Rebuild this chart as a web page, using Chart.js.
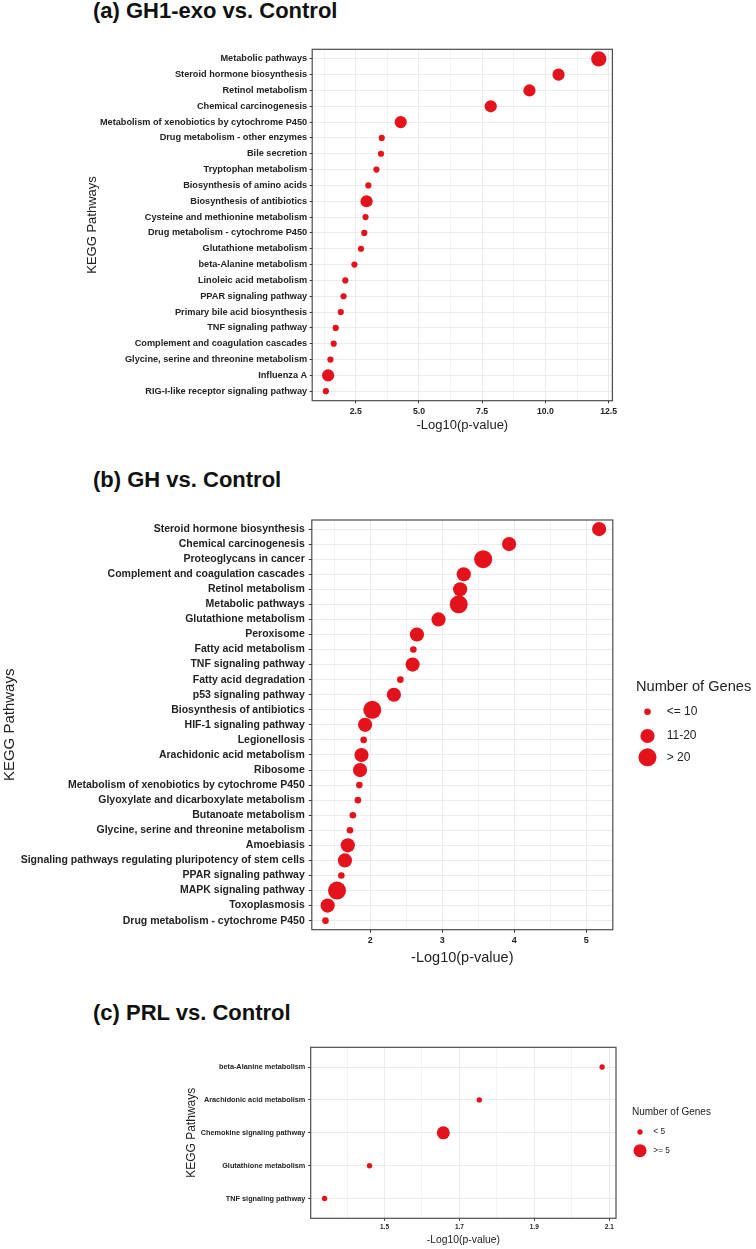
<!DOCTYPE html>
<html>
<head>
<meta charset="utf-8">
<script src="https://cdn.jsdelivr.net/npm/chart.js@4.4.1/dist/chart.umd.min.js"></script>
<style>
  html, body { margin: 0; padding: 0; background: #fff; }
  body { width: 756px; height: 1249px; position: relative; overflow: hidden; font-family: 'Liberation Sans', Arial, sans-serif; }
  .title { position: absolute; left: 93px; font-size: 22px; font-weight: bold; line-height: 22px; color: #111; white-space: nowrap; }
  .panel { position: absolute; left: 0; width: 756px; }
</style>
</head>
<body>
<div class="title" style="top:0px">(a) GH1-exo vs. Control</div>
<div class="panel" style="top:30px;height:403px"><canvas id="chartA"></canvas></div>
<div class="title" style="top:469px">(b) GH vs. Control</div>
<div class="panel" style="top:500px;height:467px"><canvas id="chartB"></canvas></div>
<div class="title" style="top:1002px">(c) PRL vs. Control</div>
<div class="panel" style="top:1035px;height:212px"><canvas id="chartC"></canvas></div>
<script>
const FONT = "'Liberation Sans', Arial, Helvetica, sans-serif";
const DOT = '#E3121B';
const INK = '#222222';

// (a) GH1-exo vs. Control
const pathwaysA = [
  'Metabolic pathways', 'Steroid hormone biosynthesis', 'Retinol metabolism', 'Chemical carcinogenesis',
  'Metabolism of xenobiotics by cytochrome P450', 'Drug metabolism - other enzymes', 'Bile secretion',
  'Tryptophan metabolism', 'Biosynthesis of amino acids', 'Biosynthesis of antibiotics',
  'Cysteine and methionine metabolism', 'Drug metabolism - cytochrome P450', 'Glutathione metabolism',
  'beta-Alanine metabolism', 'Linoleic acid metabolism', 'PPAR signaling pathway',
  'Primary bile acid biosynthesis', 'TNF signaling pathway', 'Complement and coagulation cascades',
  'Glycine, serine and threonine metabolism', 'Influenza A', 'RIG-I-like receptor signaling pathway'
];
const log10pA = [12.11, 10.52, 9.37, 7.84, 4.28, 3.53, 3.50, 3.32, 3.00, 2.93, 2.89,
  2.84, 2.71, 2.45, 2.09, 2.02, 1.91, 1.71, 1.63, 1.50, 1.41, 1.32];
const genesA = [2, 1, 1, 1, 1, 0, 0, 0, 0, 1, 0, 0, 0, 0, 0, 0, 0, 0, 0, 0, 1, 0];
const xTicksA = [2.5, 5, 7.5, 10, 12.5];
const xTickLabelsA = ['2.5', '5.0', '7.5', '10.0', '12.5'];

// (b) GH vs. Control
const pathwaysB = [
  'Steroid hormone biosynthesis', 'Chemical carcinogenesis', 'Proteoglycans in cancer',
  'Complement and coagulation cascades', 'Retinol metabolism', 'Metabolic pathways',
  'Glutathione metabolism', 'Peroxisome', 'Fatty acid metabolism', 'TNF signaling pathway',
  'Fatty acid degradation', 'p53 signaling pathway', 'Biosynthesis of antibiotics',
  'HIF-1 signaling pathway', 'Legionellosis', 'Arachidonic acid metabolism', 'Ribosome',
  'Metabolism of xenobiotics by cytochrome P450', 'Glyoxylate and dicarboxylate metabolism',
  'Butanoate metabolism', 'Glycine, serine and threonine metabolism', 'Amoebiasis',
  'Signaling pathways regulating pluripotency of stem cells', 'PPAR signaling pathway',
  'MAPK signaling pathway', 'Toxoplasmosis', 'Drug metabolism - cytochrome P450'
];
const log10pB = [5.18, 3.93, 3.57, 3.30, 3.25, 3.23, 2.95, 2.65, 2.60, 2.59, 2.42, 2.33, 2.03,
  1.93, 1.91, 1.88, 1.86, 1.85, 1.83, 1.76, 1.72, 1.69, 1.65, 1.60, 1.54, 1.41, 1.38];
const genesB = [1, 1, 2, 1, 1, 2, 1, 1, 0, 1, 0, 1, 2, 1, 0, 1, 1, 0, 0, 0, 0, 1, 1, 0, 2, 1, 0];
const geneClassesB = ['<= 10', '11-20', '> 20'];
const xTicksB = [2, 3, 4, 5];
const xTickLabelsB = ['2', '3', '4', '5'];

// (c) PRL vs. Control
const pathwaysC = ['beta-Alanine metabolism', 'Arachidonic acid metabolism', 'Chemokine signaling pathway',
  'Glutathione metabolism', 'TNF signaling pathway'];
const log10pC = [2.081, 1.753, 1.657, 1.46, 1.34];
const genesC = [0, 0, 1, 0, 0];
const geneClassesC = ['< 5', '>= 5'];
const xTicksC = [1.5, 1.7, 1.9, 2.1];
const xTickLabelsC = ['1.5', '1.7', '1.9', '2.1'];

// frame round the panel, drawn on top like theme_bw's panel.border
const panelBorder = {
  id: 'panelBorder',
  afterDatasetsDraw(chart, args, opts) {
    const { left, top, width, height } = chart.chartArea;
    const ctx = chart.ctx;
    ctx.save();
    ctx.strokeStyle = opts.color;
    ctx.lineWidth = opts.width;
    ctx.strokeRect(left, top, width, height);
    ctx.restore();
  }
};

// size legend built from the datasets (one dataset per gene-count class)
const sizeLegend = {
  id: 'sizeLegend',
  afterDraw(chart, args, opts) {
    if (!opts.display) return;
    const ctx = chart.ctx;
    ctx.save();
    ctx.textAlign = 'left';
    ctx.textBaseline = 'middle';
    ctx.fillStyle = INK;
    ctx.font = opts.titleSize + 'px ' + FONT;
    ctx.fillText(opts.title, opts.x, opts.titleY);
    ctx.font = opts.labelSize + 'px ' + FONT;
    chart.data.datasets.forEach((ds, k) => {
      const y = opts.itemY[k];
      ctx.beginPath();
      ctx.arc(opts.dotX, y, ds.pointRadius, 0, Math.PI * 2);
      ctx.fillStyle = ds.backgroundColor;
      ctx.fill();
      ctx.fillStyle = INK;
      ctx.fillText(ds.label, opts.labelX, y);
    });
    ctx.restore();
  }
};

function makeDotChart(id, pathways, values, classes, classLabels, xTicks, xTickLabels, L) {
  const datasets = classLabels.map((lab, k) => ({
    label: lab,
    data: values.map((v, i) => ({ x: v, y: i })).filter((p, i) => classes[i] === k),
    pointRadius: L.radii[k],
    pointHoverRadius: L.radii[k],
    backgroundColor: DOT,
    borderWidth: 0
  }));

  // ggplot-style 5% expansion of the continuous axis
  const lo0 = Math.min(...values), hi0 = Math.max(...values);
  const lo = lo0 - 0.05 * (hi0 - lo0), hi = hi0 + 0.05 * (hi0 - lo0);

  const isMajor = v => xTicks.some(t => Math.abs(t - v) < 1e-9);
  const step = xTicks[1] - xTicks[0];
  const xTickList = [];
  for (let k = -2; k <= xTicks.length * 2 + 1; k++) {
    const v = xTicks[0] + k * step / 2;
    if (v >= lo && v <= hi) xTickList.push({ value: v });
  }

  return new Chart(document.getElementById(id), {
    type: 'scatter',
    data: { datasets },
    options: {
      responsive: true,
      maintainAspectRatio: false,
      animation: false,
      events: [],
      layout: { padding: { top: L.padTop, right: L.padRight, bottom: 0, left: 0 } },
      plugins: {
        legend: { display: false },
        tooltip: { enabled: false },
        panelBorder: { color: '#4d4d4d', width: 1.2 },
        sizeLegend: L.legend || { display: false }
      },
      scales: {
        x: {
          type: 'linear',
          min: lo,
          max: hi,
          afterBuildTicks: s => { s.ticks = xTickList.map(t => ({ value: t.value })); },
          afterFit: s => { s.height = L.xAxisHeight; },
          border: { display: false },
          grid: {
            color: c => isMajor(c.tick.value) ? '#EBEBEB' : '#F3F3F3',
            tickColor: c => isMajor(c.tick.value) ? '#333333' : 'rgba(0,0,0,0)',
            tickLength: L.tickLen,
            lineWidth: 1
          },
          ticks: {
            autoSkip: false,
            maxRotation: 0,
            padding: L.xTickPad,
            color: INK,
            font: { family: FONT, size: L.xTickSize, weight: 'bold' },
            callback: v => {
              const i = xTicks.findIndex(t => Math.abs(t - v) < 1e-9);
              return i >= 0 ? xTickLabels[i] : '';
            }
          },
          title: {
            display: true,
            text: '-Log10(p-value)',
            color: INK,
            font: { family: FONT, size: L.xTitleSize },
            padding: { top: 0, bottom: L.xTitlePad }
          }
        },
        y: {
          type: 'linear',
          reverse: true,
          min: -0.6,
          max: pathways.length - 0.4,
          afterBuildTicks: s => { s.ticks = pathways.map((_, i) => ({ value: i })); },
          afterFit: s => { s.width = L.plotLeft; },
          border: { display: false },
          grid: { color: '#EBEBEB', tickColor: '#333333', tickLength: L.tickLen, lineWidth: 1 },
          ticks: {
            autoSkip: false,
            padding: L.yTickPad,
            color: INK,
            font: { family: FONT, size: L.yTickSize, weight: 'bold' },
            callback: v => pathways[v]
          },
          title: {
            display: true,
            text: 'KEGG Pathways',
            color: INK,
            font: { family: FONT, size: L.yTitleSize },
            padding: { top: L.yTitlePad, bottom: 0 }
          }
        }
      }
    },
    plugins: [panelBorder, sizeLegend]
  });
}

makeDotChart('chartA', pathwaysA, log10pA, genesA, geneClassesB, xTicksA, xTickLabelsA, {
  radii: [3.1, 6.1, 7.6],
  padTop: 19.3, padRight: 143.6, plotLeft: 312.2,
  xAxisHeight: 32.3, tickLen: 2.5, xTickPad: 3, xTickSize: 8.7, xTitleSize: 13, xTitlePad: 0.2,
  yTickPad: 2.5, yTickSize: 9.2, yTitleSize: 13, yTitlePad: 84.2
});

makeDotChart('chartB', pathwaysB, log10pB, genesB, geneClassesB, xTicksB, xTickLabelsB, {
  radii: [3.3, 7.1, 9],
  padTop: 20, padRight: 143.2, plotLeft: 311.8,
  xAxisHeight: 37.3, tickLen: 3, xTickPad: 2.6, xTickSize: 9, xTitleSize: 14.5, xTitlePad: 0.3,
  yTickPad: 4, yTickSize: 10.5, yTitleSize: 15, yTitlePad: 1,
  legend: { display: true, title: 'Number of Genes', titleSize: 14.6, labelSize: 12,
    x: 636, titleY: 186.7, dotX: 647.5, labelX: 666.7, itemY: [211.7, 236, 257.3] }
});

makeDotChart('chartC', pathwaysC, log10pC, genesC, geneClassesC, xTicksC, xTickLabelsC, {
  radii: [2.7, 6.5],
  padTop: 12.3, padRight: 140, plotLeft: 310.7,
  xAxisHeight: 28.7, tickLen: 2.5, xTickPad: 3, xTickSize: 6.5, xTitleSize: 10.4, xTitlePad: 0.8,
  yTickPad: 2.9, yTickSize: 7.3, yTitleSize: 12, yTitlePad: 184.3,
  legend: { display: true, title: 'Number of Genes', titleSize: 10, labelSize: 8.3,
    x: 632, titleY: 77.3, dotX: 640, labelX: 653.3, itemY: [97, 115.7] }
});
</script>
</body>
</html>
